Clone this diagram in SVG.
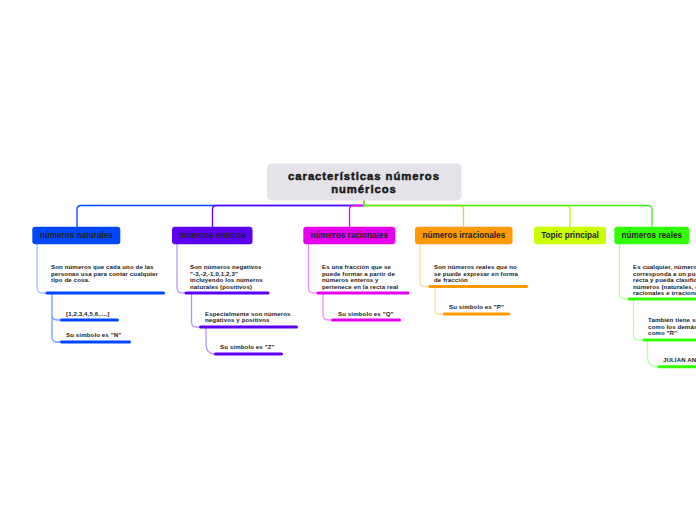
<svg xmlns="http://www.w3.org/2000/svg" width="696" height="520" viewBox="0 0 696 520">
<style>
.bg{fill:#ffffff}
.main{fill:#e5e2ea}
.mt{font-family:"Liberation Sans",Arial,sans-serif;font-size:11.3px;font-weight:bold;fill:#1a1a1a;stroke:#1a1a1a;stroke-width:0.5;letter-spacing:0.95px;text-anchor:middle}
.ht{font-family:"Liberation Sans",Arial,sans-serif;font-size:8.2px;font-weight:bold;fill:#222222;text-anchor:middle}
.st{font-family:"Liberation Sans",Arial,sans-serif;font-size:6.1px;font-weight:bold;fill:#1a1a1a;letter-spacing:0.12px}
.c{fill:none;stroke-width:1.3}
.u{fill:none;stroke-width:3;stroke-linecap:round}
</style>
<rect class="bg" x="0" y="0" width="696" height="520"/>
<g id="connectors">
  <path class="c" stroke="#0047ff" d="M364,200 V205.5 H81 Q77,205.5 77,209.5 V227"/>
  <path class="c" stroke="#6000ff" d="M364,200 V205.5 H216.5 Q212.5,205.5 212.5,209.5 V227"/>
  <path class="c" stroke="#e600ee" d="M364,200 V205.5 H353.5 Q349.5,205.5 349.5,209.5 V227"/>
  <path class="c" stroke="#ffbf66" d="M364,200 V205.5 H459.5 Q463.5,205.5 463.5,209.5 V227"/>
  <path class="c" stroke="#ccee22" d="M364,200 V205.5 H566 Q570,205.5 570,209.5 V227"/>
  <path class="c" stroke="#44ee22" d="M364,200 V205.5 H648 Q652,205.5 652,209.5 V227"/>
  <path class="c" stroke="#a8bfff" d="M37,244 V288 Q37,293 42,293 H47"/>
  <path class="c" stroke="#6f9aff" d="M52,293 V315 Q52,320 57,320 H61 M52,315 V337 Q52,342 57,342 H61"/>
  <path class="c" stroke="#b795ff" d="M177,244 V288 Q177,293 182,293 H186"/>
  <path class="c" stroke="#b795ff" d="M191.5,293 V322 Q191.5,327 196.5,327 H200"/>
  <path class="c" stroke="#b795ff" d="M206,327 V344 Q206,354 215,354"/>
  <path class="c" stroke="#f58cf7" d="M308.5,244 V288 Q308.5,293 313.5,293 H317.5"/>
  <path class="c" stroke="#f58cf7" d="M323,293 V315 Q323,320 328,320 H332"/>
  <path class="c" stroke="#ffd9a0" d="M420,244 V281.5 Q420,286.5 425,286.5 H429.5"/>
  <path class="c" stroke="#ffd9a0" d="M435,286.5 V309 Q435,314 440,314 H444"/>
  <path class="c" stroke="#b6ffa6" d="M619.5,244 V294 Q619.5,299 624.5,299 H628.5"/>
  <path class="c" stroke="#b6ffa6" d="M633.5,299 V335 Q633.5,340 638.5,340 H643.5"/>
  <path class="c" stroke="#b6ffa6" d="M647.5,340 V356.7 Q647.5,366.7 658.5,366.7"/>
</g>
<g id="central">
  <rect class="main" x="267" y="163.5" width="194.5" height="37" rx="5"/>
  <text class="mt" x="364" y="180.2">características números</text>
  <text class="mt" x="364" y="193">numéricos</text>
</g>
<g id="naturales">
  <rect x="32.3" y="226.7" width="88" height="17.5" rx="3" fill="#0047ff"/>
  <text class="ht" x="76.3" y="238.4">números naturales</text>
</g>
<g id="naturales-def">
  <text class="st" x="51" y="269">Son números que cada uno de las</text>
  <text class="st" x="51" y="275.5">personas usa para contar cualquier</text>
  <text class="st" x="51" y="282">tipo de cosa.</text>
  <line class="u" stroke="#0047ff" x1="47" y1="293" x2="163.5" y2="293"/>
</g>
<g id="naturales-set">
  <text class="st" x="66" y="315.5">[1,2,3,4,5,6,....]</text>
  <line class="u" stroke="#0047ff" x1="61.5" y1="320" x2="117.5" y2="320"/>
</g>
<g id="naturales-symbol">
  <text class="st" x="66" y="336.5">Su símbolo es "N"</text>
  <line class="u" stroke="#0047ff" x1="61.5" y1="342" x2="129.5" y2="342"/>
</g>
<g id="enteros">
  <rect x="172" y="226.7" width="80.5" height="17.5" rx="3" fill="#5c00f5"/>
  <text class="ht" x="212.3" y="238.4">números enteros</text>
</g>
<g id="enteros-def">
  <text class="st" x="190" y="269">Son números negativos</text>
  <text class="st" x="190" y="275.5">"-3,-2,-1,0,1,2,3"</text>
  <text class="st" x="190" y="282">incluyendo los números</text>
  <text class="st" x="190" y="288.5">naturales (positivos)</text>
  <line class="u" stroke="#5c00f5" x1="186" y1="293" x2="268" y2="293"/>
</g>
<g id="enteros-sub">
  <text class="st" x="205" y="315.5">Especialmente son números</text>
  <text class="st" x="205" y="322">negativos y positivos</text>
  <line class="u" stroke="#5c00f5" x1="200.5" y1="327" x2="296.5" y2="327"/>
</g>
<g id="enteros-symbol">
  <text class="st" x="220" y="349">Su símbolo es "Z"</text>
  <line class="u" stroke="#5c00f5" x1="215.5" y1="354" x2="281.5" y2="354"/>
</g>
<g id="racionales">
  <rect x="303.3" y="226.7" width="92" height="17.5" rx="3" fill="#e600ee"/>
  <text class="ht" x="349.3" y="238.4">números racionales</text>
</g>
<g id="racionales-def">
  <text class="st" x="322" y="269">Es una fracción que se</text>
  <text class="st" x="322" y="275.5">puede formar a partir de</text>
  <text class="st" x="322" y="282">números enteros y</text>
  <text class="st" x="322" y="288.5">pertenece en la recta real</text>
  <line class="u" stroke="#e600ee" x1="318" y1="293" x2="408" y2="293"/>
</g>
<g id="racionales-symbol">
  <text class="st" x="338" y="315.5">Su símbolo es "Q"</text>
  <line class="u" stroke="#e600ee" x1="332.5" y1="320" x2="399.5" y2="320"/>
</g>
<g id="irracionales">
  <rect x="415" y="226.7" width="97.5" height="17.5" rx="3" fill="#ff9900"/>
  <text class="ht" x="463.8" y="238.4">números irracionales</text>
</g>
<g id="irracionales-def">
  <text class="st" x="434" y="269">Son números reales que no</text>
  <text class="st" x="434" y="275.5">se puede expresar en forma</text>
  <text class="st" x="434" y="282">de fracción</text>
  <line class="u" stroke="#ff9900" x1="430" y1="286.5" x2="526.5" y2="286.5"/>
</g>
<g id="irracionales-symbol">
  <text class="st" x="449" y="309">Su símbolo es "P"</text>
  <line class="u" stroke="#ff9900" x1="444.5" y1="314" x2="508.5" y2="314"/>
</g>
<g id="topic-principal">
  <rect x="534" y="226.7" width="72" height="17.5" rx="3" fill="#ccff00"/>
  <text class="ht" x="570" y="238.4">Topic principal</text>
</g>
<g id="reales">
  <rect x="614.3" y="226.7" width="75" height="17.5" rx="3" fill="#33ff00"/>
  <text class="ht" x="651.8" y="238.4">números reales</text>
</g>
<g id="reales-def">
  <text class="st" x="633" y="269">Es cualquier, número que</text>
  <text class="st" x="633" y="275.5">corresponda a un punto de la</text>
  <text class="st" x="633" y="282">recta y pueda clasificarse en</text>
  <text class="st" x="633" y="288.5">números (naturales, enteros,</text>
  <text class="st" x="633" y="295">racionales e irracionales)</text>
  <line class="u" stroke="#33ff00" x1="629" y1="299" x2="700" y2="299"/>
</g>
<g id="reales-symbol">
  <text class="st" x="648" y="322">También tiene su símbolo</text>
  <text class="st" x="648" y="328.5">como los demás, se identifica</text>
  <text class="st" x="648" y="335">como "R"</text>
  <line class="u" stroke="#33ff00" x1="644" y1="340" x2="700" y2="340"/>
</g>
<g id="reales-author">
  <text class="st" x="663" y="362">JULIAN ANDRES</text>
  <line class="u" stroke="#33ff00" x1="659" y1="366.7" x2="700" y2="366.7"/>
</g>
</svg>
